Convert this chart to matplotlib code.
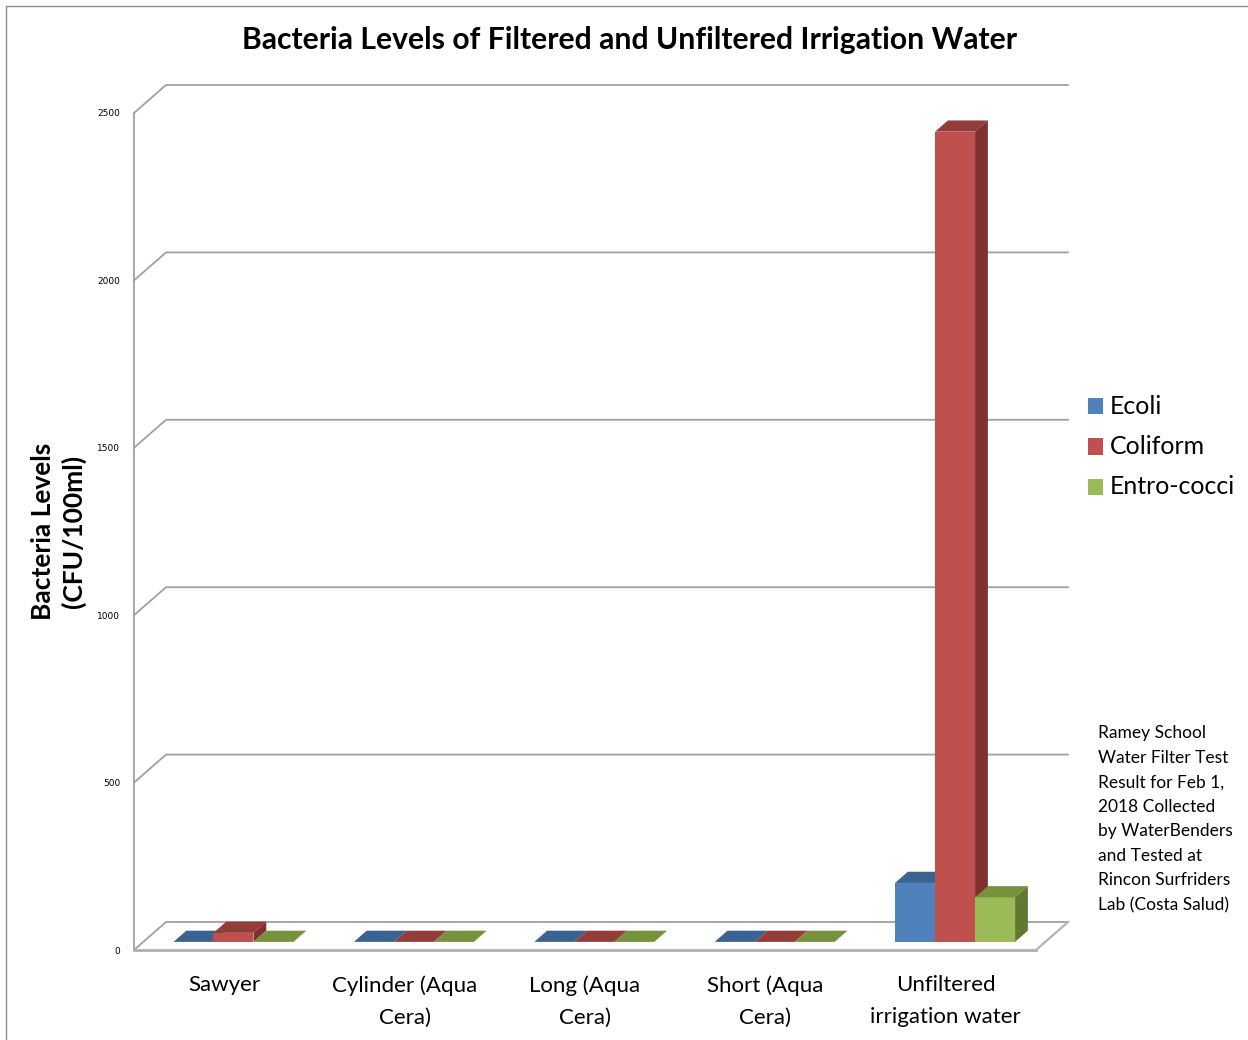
import matplotlib.pyplot as plt
from matplotlib.patches import Polygon, Rectangle

plt.rcParams['font.family'] = ['Lato', 'DejaVu Sans']

# Bacteria counts (CFU/100ml) for each water sample
samples = ['Sawyer', 'Cylinder (Aqua\nCera)', 'Long (Aqua\nCera)', 'Short (Aqua\nCera)',
           'Unfiltered\nirrigation water']
ecoli = [0, 0, 0, 0, 176]
coliform = [27, 0, 0, 0, 2420]
entro_cocci = [0, 0, 0, 0, 133]
series_names = ['Ecoli', 'Coliform', 'Entro-cocci']
y_ticks = [0, 500, 1000, 1500, 2000, 2500]

note = ('Ramey School\nWater Filter Test\nResult for Feb 1,\n2018 Collected\n'
        'by WaterBenders\nand Tested at\nRincon Surfriders\nLab (Costa Salud)')

# face colours: front, top, side
colors = [('#4F81BD', '#3B6391', '#385D8A'),
          ('#C0504D', '#943C3A', '#7E312F'),
          ('#9BBB59', '#76923C', '#61782F')]

W, H = 1248, 1040
fig = plt.figure(figsize=(W / 100, H / 100), dpi=100)
# front plane of the pseudo-3D plot box
x0, x1, yb, yt = 134, 1036, 950, 113
ax = fig.add_axes([x0 / W, 1 - yb / H, (x1 - x0) / W, (yb - yt) / H])
ax.set_xlim(0, len(samples))
ax.set_ylim(0, 2500)

px_x = len(samples) / (x1 - x0)
px_y = 2500 / (yb - yt)
ddx = 32 * px_x          # depth offset of the back wall, data units
ddy = 28 * px_y
grid_c = '#A0A0A0'

# back wall gridlines with their diagonal links to the front axis
for v in y_ticks:
    ax.plot([0, ddx, len(samples) + ddx], [v, v + ddy, v + ddy],
            color=grid_c, lw=1.3, clip_on=False, zorder=1)
# floor right edge
ax.plot([len(samples), len(samples) + ddx], [0, ddy], color='#B0B0B0', lw=1.5,
        clip_on=False, zorder=1)

# 3D-looking bars
bw = 40 * px_x
f0, depth = 0.29, 0.40
series = [ecoli, coliform, entro_cocci]
for i in range(len(samples)):
    cx = i + 0.5
    for j, vals in enumerate(series):
        v = vals[i]
        front, top, side = colors[j]
        left = cx - 1.5 * bw + j * bw + f0 * ddx
        base = f0 * ddy
        ax.bar(left, v, width=bw, bottom=base, align='edge', color=front,
               linewidth=0, zorder=3)
        ox, oy = depth * ddx, depth * ddy
        ax.add_patch(Polygon([(left, base + v), (left + bw, base + v),
                              (left + bw + ox, base + v + oy), (left + ox, base + v + oy)],
                             closed=True, facecolor=top, edgecolor='none', zorder=3))
        if v > 0:
            ax.add_patch(Polygon([(left + bw, base), (left + bw, base + v),
                                  (left + bw + ox, base + v + oy), (left + bw + ox, base + oy)],
                                 closed=True, facecolor=side, edgecolor='none', zorder=3))

for s in ['top', 'right']:
    ax.spines[s].set_visible(False)
ax.spines['left'].set_color(grid_c)
ax.spines['left'].set_linewidth(1.3)
ax.spines['bottom'].set_color('#B0B0B0')
ax.spines['bottom'].set_linewidth(2)

ax.set_yticks(y_ticks)
ax.set_yticklabels([str(t) for t in y_ticks], fontsize=6.5, family='DejaVu Sans')
ax.set_xticks([i + 0.5 for i in range(len(samples))])
ax.set_xticklabels(samples, fontsize=16, linespacing=1.75)
ax.tick_params(axis='y', length=0, pad=10)
ax.tick_params(axis='x', length=0, pad=18)

ax.set_ylabel('Bacteria Levels\n(CFU/100ml)', fontsize=19, fontweight='bold',
              linespacing=1.25, labelpad=8)

fig.text(629 / W, 1 - 40 / H, 'Bacteria Levels of Filtered and Unfiltered Irrigation Water',
         ha='center', va='center', fontsize=21.7, fontweight='bold')

# legend
for k, name in enumerate(series_names):
    yc = 406 + k * 40.5
    fig.patches.append(Rectangle((1088 / W, 1 - (yc + 8) / H), 15 / W, 16 / H,
                                 transform=fig.transFigure, facecolor=colors[k][0],
                                 edgecolor='none'))
    fig.text(1110 / W, 1 - yc / H, name, ha='left', va='center', fontsize=18)

fig.text(1098 / W, 1 - 725 / H, note, ha='left', va='top', fontsize=12.5, linespacing=1.66)

# outer frame
fig.patches.append(Rectangle((6 / W, -0.01), 1.1, 1 - 6 / H + 0.01, transform=fig.transFigure,
                             fill=False, edgecolor='#8C8C8C', lw=1))

fig.savefig('out.png', dpi=100)
